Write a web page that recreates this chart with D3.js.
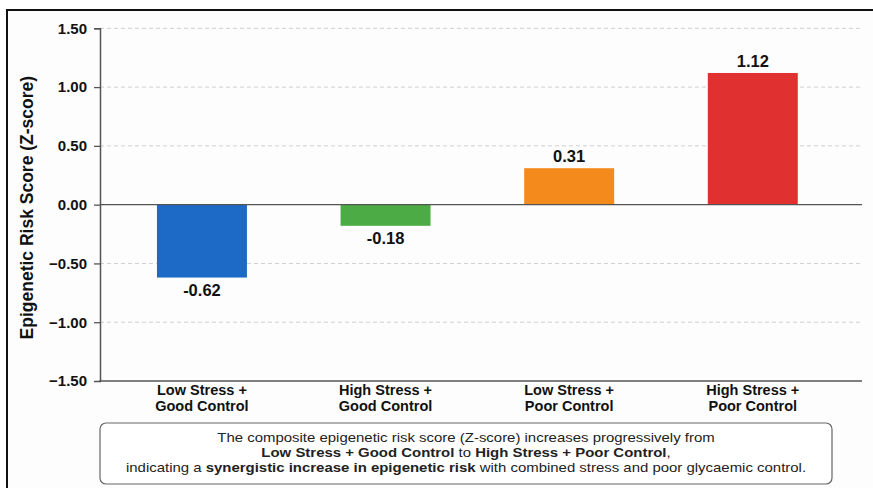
<!DOCTYPE html>
<html>
<head>
<meta charset="utf-8">
<script src="https://cdn.jsdelivr.net/npm/d3@7"></script>
<style>
  html, body { margin: 0; padding: 0; background: #ffffff; }
  svg { display: block; font-family: "Liberation Sans", Arial, sans-serif; }
</style>
</head>
<body>
<svg id="chart" width="873" height="488"></svg>
<script>
// Group labels (two lines each), score values and bar colours
const categories = [
  ["Low Stress +", "Good Control"],
  ["High Stress +", "Good Control"],
  ["Low Stress +", "Poor Control"],
  ["High Stress +", "Poor Control"]
];
const scores = [-0.62, -0.18, 0.31, 1.12];
const barColors = ["#1c69c6", "#4cab45", "#f48a1c", "#e0302f"];
const yTicks = [-1.5, -1.0, -0.5, 0.0, 0.5, 1.0, 1.5];
const yTitle = "Epigenetic Risk Score (Z-score)";

const svg = d3.select("#chart");
const W = 873, H = 488;

// outer frame
svg.append("rect")
  .attr("x", 7).attr("y", 10)
  .attr("width", W + 20).attr("height", H + 20)
  .attr("fill", "#fdfdfd")
  .attr("stroke", "#111").attr("stroke-width", 2);

const plotLeft = 100, plotRight = 862, plotTop = 28.3, plotBottom = 381;

const x = d3.scaleBand()
  .domain(d3.range(categories.length))
  .range([plotLeft, plotRight])
  .paddingInner(0.51)
  .paddingOuter(0.33)
  .align(0.47);

const y = d3.scaleLinear()
  .domain([-1.5, 1.5])
  .range([plotBottom, plotTop]);

// dashed grid lines (zero line drawn solid)
svg.append("g")
  .selectAll("line")
  .data(yTicks.filter(t => t !== 0 && t !== -1.5))
  .join("line")
  .attr("x1", plotLeft).attr("x2", plotRight)
  .attr("y1", d => y(d)).attr("y2", d => y(d))
  .attr("stroke", "#cfcfcf")
  .attr("stroke-width", 1)
  .attr("stroke-dasharray", "4,3");

// bars
svg.append("g")
  .selectAll("rect")
  .data(scores)
  .join("rect")
  .attr("x", (d, i) => x(i))
  .attr("width", x.bandwidth())
  .attr("y", d => y(Math.max(0, d)))
  .attr("height", d => Math.abs(y(d) - y(0)))
  .attr("fill", (d, i) => barColors[i]);

// zero line
svg.append("line")
  .attr("x1", plotLeft).attr("x2", plotRight)
  .attr("y1", y(0)).attr("y2", y(0))
  .attr("stroke", "#555").attr("stroke-width", 1.3);

// y axis
const yAxis = svg.append("g")
  .attr("transform", `translate(${plotLeft},0)`)
  .call(d3.axisLeft(y).tickValues(yTicks).tickFormat(d3.format(".2f")).tickSize(6).tickPadding(7));
yAxis.select(".domain").attr("stroke", "#555").attr("stroke-width", 1.5);
yAxis.selectAll(".tick line").attr("stroke", "#555").attr("stroke-width", 1.3);
yAxis.select(".tick:first-of-type line").remove();
yAxis.selectAll(".tick text")
  .attr("fill", "#111")
  .style("font-size", "15px")
  .style("font-weight", "bold");

// bottom axis line
svg.append("line")
  .attr("x1", plotLeft - 0.75).attr("x2", plotRight)
  .attr("y1", y(-1.5)).attr("y2", y(-1.5))
  .attr("stroke", "#555").attr("stroke-width", 1.5);

// y axis title
svg.append("text")
  .attr("transform", `translate(33,${(plotTop + plotBottom) / 2 + 3}) rotate(-90)`)
  .attr("text-anchor", "middle")
  .attr("fill", "#111")
  .style("font-size", "17.5px")
  .style("font-weight", "bold")
  .text(yTitle);

// value labels
svg.append("g")
  .selectAll("text")
  .data(scores)
  .join("text")
  .attr("x", (d, i) => x(i) + x.bandwidth() / 2)
  .attr("y", d => d >= 0 ? y(d) - 6 : y(d) + 18.5)
  .attr("text-anchor", "middle")
  .attr("fill", "#111")
  .style("font-size", "16.5px")
  .style("font-weight", "bold")
  .text(d => d.toFixed(2));

// category labels
const catG = svg.append("g")
  .selectAll("text")
  .data(categories)
  .join("text")
  .attr("x", (d, i) => x(i) + x.bandwidth() / 2)
  .attr("y", 395)
  .attr("text-anchor", "middle")
  .attr("fill", "#111")
  .style("font-size", "14.5px")
  .style("font-weight", "bold");
catG.selectAll("tspan")
  .data(d => d)
  .join("tspan")
  .attr("x", function () { return d3.select(this.parentNode).attr("x"); })
  .attr("dy", (d, i) => i === 0 ? 0 : 16)
  .text(d => d);

// summary note
const boxX = 100, boxY = 423, boxW = 732, boxH = 61;
svg.append("rect")
  .attr("x", boxX).attr("y", boxY)
  .attr("width", boxW).attr("height", boxH)
  .attr("rx", 6).attr("ry", 6)
  .attr("fill", "#ffffff")
  .attr("stroke", "#666").attr("stroke-width", 1.2);

const noteLines = [
  [["The composite epigenetic risk score (Z-score) increases progressively from", false]],
  [["Low Stress + Good Control", true], [" to ", false], ["High Stress + Poor Control", true], [",", false]],
  [["indicating a ", false], ["synergistic increase in epigenetic risk", true], [" with combined stress and poor glycaemic control.", false]]
];
const noteG = svg.append("g");
noteLines.forEach((parts, li) => {
  const t = noteG.append("text")
    .attr("transform", `translate(${boxX + boxW / 2},${boxY + 19 + li * 15}) scale(1.15,1)`)
    .attr("text-anchor", "middle")
    .attr("fill", "#222")
    .style("font-size", "13px");
  parts.forEach(([s, b]) => {
    t.append("tspan").style("font-weight", b ? "bold" : "normal").text(s);
  });
});
</script>
</body>
</html>
